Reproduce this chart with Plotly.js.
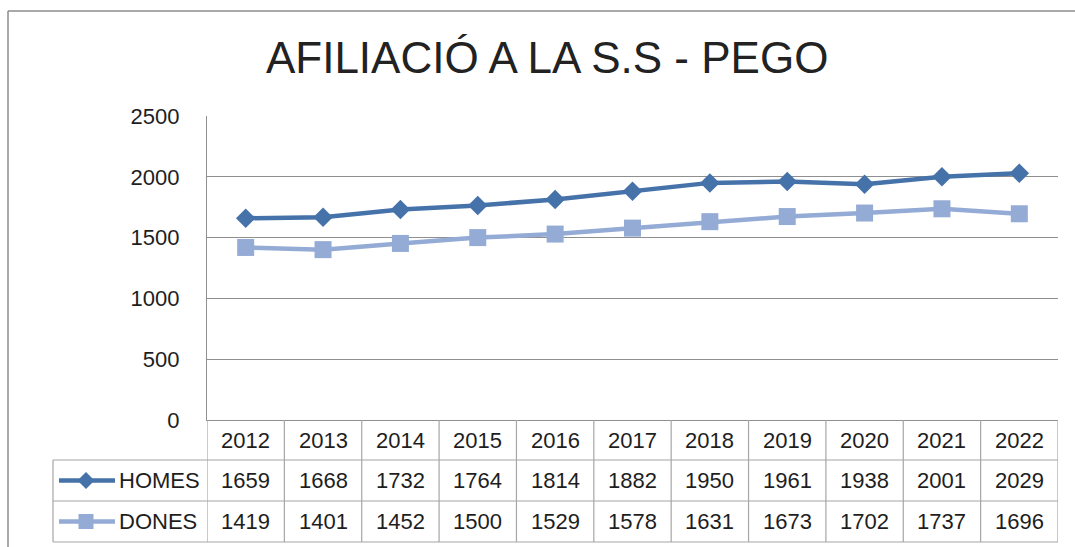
<!DOCTYPE html>
<html><head><meta charset="utf-8">
<script src="https://cdn.plot.ly/plotly-3.0.1.min.js"></script>
<style>html,body{margin:0;padding:0;background:#fff}</style>
</head><body><div id="chart" style="width:1075px;height:547px"></div>
<script>
// ---- data ----
const years = ['2012','2013','2014','2015','2016','2017','2018','2019','2020','2021','2022'];
const homes = [1659,1668,1732,1764,1814,1882,1950,1961,1938,2001,2029];
const dones = [1419,1401,1452,1500,1529,1578,1631,1673,1702,1737,1696];
const seriesNames = ['HOMES','DONES'];
const yTicks = [0,500,1000,1500,2000,2500];
const titleText = 'AFILIACIÓ A LA S.S - PEGO';

// ---- styling ----
const W = 1075, H = 547;
const L = 207, R = 1058, T = 116, B = 420;
const colHomes = '#4672AA', colDones = '#94ABD5';
const gridCol = '#8f8f8f', tableCol = '#a6a6a6', txtCol = '#1e1e1e';
const fontFam = '"Liberation Sans", Arial, sans-serif';
const px = x => (x - L) / (R - L);
const py = y => (B - y) / (B - T);

const rowLines = [460, 501, 542];
const rowCenters = [440, 480.5, 521.5];

const shapes = [];
const annotations = [];

// vertical table lines at category boundaries
for (let i = 0; i <= years.length; i++) {
  shapes.push({type:'line', xref:'x', yref:'paper', x0:i-0.5, x1:i-0.5, y0:0, y1:py(rowLines[2]),
    line:{color:tableCol, width:1.2}});
}
// horizontal table lines
rowLines.forEach(yy => {
  shapes.push({type:'line', xref:'paper', yref:'paper', x0:px(53), x1:1, y0:py(yy), y1:py(yy), line:{color:tableCol,width:1.2}});
});
// legend column left line
shapes.push({type:'line', xref:'paper', yref:'paper', x0:px(53), x1:px(53), y0:py(rowLines[0]), y1:py(rowLines[2]), line:{color:tableCol,width:1.2}});
// outer frame (top + left)
shapes.push({type:'line', xref:'paper', yref:'paper', x0:px(8), x1:px(1080), y0:py(11), y1:py(11), line:{color:'#8c8c8c',width:1.5}});
shapes.push({type:'line', xref:'paper', yref:'paper', x0:px(8), x1:px(8), y0:py(11), y1:py(550), line:{color:'#8c8c8c',width:1.5}});

// legend keys inside table
function legendKey(rowY, color, kind) {
  shapes.push({type:'line', xref:'paper', yref:'paper', x0:px(59), x1:px(115), y0:py(rowY), y1:py(rowY), line:{color:color,width:4.5}});
  const cx = 86;
  let path;
  if (kind === 'diamond') {
    const r = 8.5;
    path = `M ${px(cx-r)} ${py(rowY)} L ${px(cx)} ${py(rowY-r)} L ${px(cx+r)} ${py(rowY)} L ${px(cx)} ${py(rowY+r)} Z`;
  } else {
    const r = 7.5;
    path = `M ${px(cx-r)} ${py(rowY-r)} L ${px(cx+r)} ${py(rowY-r)} L ${px(cx+r)} ${py(rowY+r)} L ${px(cx-r)} ${py(rowY+r)} Z`;
  }
  shapes.push({type:'path', xref:'paper', yref:'paper', path:path, fillcolor:color, line:{width:0}});
}
legendKey(rowCenters[1], colHomes, 'diamond');
legendKey(rowCenters[2], colDones, 'square');

annotations.push({xref:'paper', yref:'paper', x:px(117), y:py(rowCenters[1]), text:seriesNames[0], showarrow:false, xanchor:'left', yanchor:'middle', font:{family:fontFam,size:22,color:txtCol}});
annotations.push({xref:'paper', yref:'paper', x:px(117), y:py(rowCenters[2]), text:seriesNames[1], showarrow:false, xanchor:'left', yanchor:'middle', font:{family:fontFam,size:22,color:txtCol}});

// table cell text (x given as category index)
years.forEach((yr, i) => {
  const f = {family:fontFam, size:22, color:txtCol};
  annotations.push({xref:'x', yref:'paper', x:i, y:py(rowCenters[0]), text:yr, showarrow:false, xanchor:'center', yanchor:'middle', font:f});
  annotations.push({xref:'x', yref:'paper', x:i, y:py(rowCenters[1]), text:String(homes[i]), showarrow:false, xanchor:'center', yanchor:'middle', font:f});
  annotations.push({xref:'x', yref:'paper', x:i, y:py(rowCenters[2]), text:String(dones[i]), showarrow:false, xanchor:'center', yanchor:'middle', font:f});
});

const traces = [
  {type:'scatter', mode:'lines+markers', name:seriesNames[0], x:years, y:homes,
   line:{color:colHomes, width:4.5}, marker:{symbol:'diamond', size:15, color:colHomes}},
  {type:'scatter', mode:'lines+markers', name:seriesNames[1], x:years, y:dones,
   line:{color:colDones, width:4.5}, marker:{symbol:'square', size:17, color:colDones}}
];

const layout = {
  width:W, height:H,
  margin:{l:L, r:W-R, t:T, b:H-B, pad:0},
  paper_bgcolor:'#fff', plot_bgcolor:'#fff',
  showlegend:false,
  title:{text:titleText, xref:'container', yref:'container', x:0.509, y:1-58/H, xanchor:'center', yanchor:'middle',
    font:{family:fontFam, size:44, color:'#222'}},
  xaxis:{type:'category', range:[-0.5, years.length-0.5], showticklabels:false, showgrid:false, zeroline:false,
    showline:true, linecolor:gridCol, linewidth:1.2, ticks:'', fixedrange:true},
  yaxis:{range:[0,2500], tickvals:yTicks, ticktext:yTicks.map(String), showgrid:true, gridcolor:gridCol, gridwidth:1.2,
    zeroline:false, showline:true, linecolor:gridCol, linewidth:1.2, ticks:'', ticklabelstandoff:22,
    tickfont:{family:fontFam, size:22, color:txtCol}, fixedrange:true},
  shapes:shapes,
  annotations:annotations
};

Plotly.newPlot('chart', traces, layout, {displayModeBar:false, staticPlot:true});
</script>
</body></html>
